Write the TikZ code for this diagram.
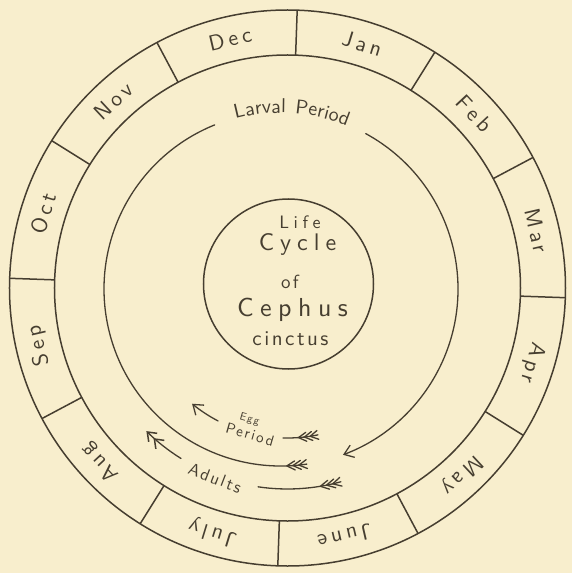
\documentclass[tikz,border=0pt]{standalone}
\usepackage{fontspec}
\newfontfamily\hand[LetterSpace=12]{lmsans10-regular.otf}
\newfontfamily\handm[LetterSpace=18]{lmsans10-regular.otf}
\newfontfamily\handw[LetterSpace=25]{lmsans10-regular.otf}
\usetikzlibrary{arrows.meta,decorations.text}
\definecolor{paper}{RGB}{248,238,205}
\definecolor{ink}{RGB}{70,62,48}
\tikzset{
  ring/.style={draw=ink, line width=1.5pt},
  shaft/.style={draw=ink, line width=1.3pt, line cap=round},
  barb/.style={-{Straight Barb[length=9pt,width=13pt,line width=1.3pt]}},
  dbarb/.style={-{Straight Barb[length=8pt,width=12pt,line width=1.5pt] Straight Barb[length=8pt,width=12pt,line width=1.5pt]}},
  month/.style={font=\handm\fontsize{22}{22}\selectfont},
  lbl/.style={text=ink, inner sep=0pt}
}
\newcommand\fletching[3]{%
  \foreach \k in {0,1,2}{%
    \pgfmathsetmacro\fv{#2-#3-\k*0.75*#3}%
    \pgfmathsetmacro\fw{\fv+#3}%
    \draw[shaft] (\fv:#1) -- (\fw:{#1+4.5}) (\fv:#1) -- (\fw:{#1-4.5});
  }}
\begin{document}
\begin{tikzpicture}[x=1pt,y=1pt, every node/.style={lbl}]
\fill[paper] (-287.5,-285) rectangle (284.5,288);
\useasboundingbox (-287.5,-285) rectangle (284.5,288);
% month ring
\draw[ring] (0,0) circle[radius=278];
\draw[ring] (0,0) circle[radius=233];
\foreach \a in {88,58,...,-242} \draw[ring] (\a:233) -- (\a:278);
\foreach \m [count=\i] in {Jan,Feb,Mar,Apr,May,June,July,Aug,Sep,Oct,Nov,Dec}{
  \pgfmathsetmacro\ma{103-30*\i}
  \node[month, rotate=\ma-90] (m\i) at (\ma:255.5) {\m};
}
% centre
\draw[ring] (1,4) circle[radius=85];
\node[font=\handw\fontsize{18}{18}\selectfont] (life) at (12.5,66) {Life};
\node[font=\handw\fontsize{24}{24}\selectfont] (cycle) at (10,44) {Cycle};
\node[font=\hand\fontsize{19}{19}\selectfont] (of) at (2.5,6) {of};
\node[font=\handw\fontsize{26}{26}\selectfont] (cephus) at (5,-22) {Cephus};
\node[font=\hand\fontsize{21}{21}\selectfont] (cinctus) at (3,-51) {cinctus};
% larval period
\begin{scope}[shift={(-6.5,-1)}]
  \draw[shaft] (-81.6:177) arc[start angle=-81.6, end angle=-248, radius=177];
  \fletching{177}{-81.6}{2.6}
  \draw[shaft, barb] (61.4:177) arc[start angle=61.4, end angle=-69.5, radius=177];
  \path[decorate, decoration={text along path, text align=center,
     text={|\hand\fontsize{20}{20}\selectfont\color{ink}|Larval Period}}]
     (113:176) arc[start angle=113, end angle=60, radius=176];
\end{scope}
% egg period
\draw[shaft] (-78.3:150) arc[start angle=-78.3, end angle=-91.7, radius=150];
\fletching{150}{-78.3}{3}
\draw[shaft, barb] (-117.6:150) arc[start angle=-117.6, end angle=-129.5, radius=150];
\node[font=\hand\fontsize{11}{11}\selectfont, rotate=-16] (egg) at (-38,-132) {Egg};
\node[font=\hand\fontsize{15}{15}\selectfont, rotate=-16] (period) at (-37.5,-146.5) {Period};
% adults
\draw[shaft] (-74.6:201) arc[start angle=-74.6, end angle=-98.4, radius=201];
\fletching{201}{-74.6}{2.4}
\draw[shaft, dbarb] (-122:201) arc[start angle=-122, end angle=-134.6, radius=201];
\node[font=\hand\fontsize{17}{17}\selectfont, rotate=-21] (adults) at (-72.5,-190) {Adults};
\end{tikzpicture}
\end{document}
